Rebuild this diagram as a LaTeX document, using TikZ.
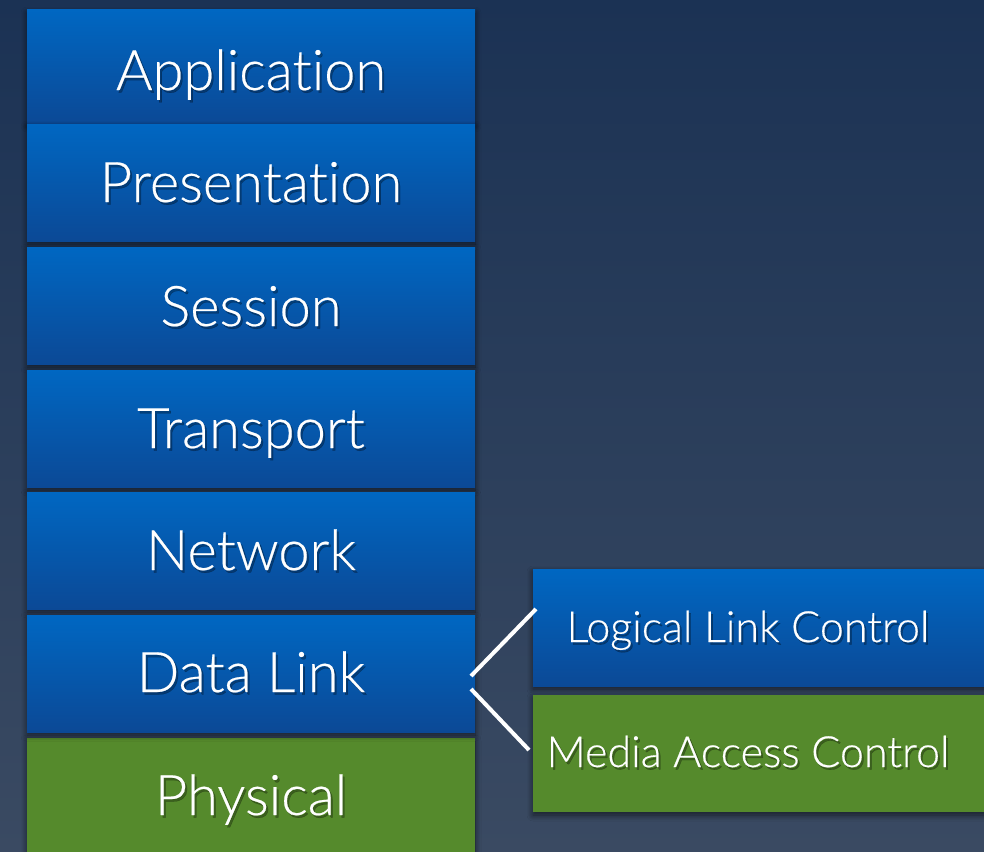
\documentclass[tikz,border=0pt]{standalone}
\usepackage{fontspec}
\setmainfont{Lato}[UprightFont=* Light, Ligatures={NoCommon}, FakeBold=0.4]
\usetikzlibrary{shadows.blur,calc}

\definecolor{bgtop}{HTML}{1B3254}
\definecolor{bgbot}{HTML}{3A4A62}
\definecolor{bluetop}{HTML}{0067C2}
\definecolor{bluebot}{HTML}{0B4996}
\definecolor{grass}{HTML}{558A2C}

\tikzset{
  every node/.style={inner sep=0pt, outer sep=0pt},
  layerbox/.style={rectangle, minimum width=448pt, minimum height=117pt,
    blur shadow={shadow xshift=0pt, shadow yshift=-3pt, shadow blur steps=10,
      shadow blur radius=6pt, shadow opacity=60}},
  sublayerbox/.style={layerbox, minimum width=460pt},
  bluefill/.style={top color=bluetop, bottom color=bluebot},
  greenfill/.style={fill=grass},
  bigtext/.style={font=\fontsize{56}{62}\selectfont, text=white, anchor=base},
  smalltext/.style={font=\fontsize{43}{50}\selectfont, text=white, anchor=base},
  textshade/.style={text=black, opacity=0.3},
  splitline/.style={draw=white, line width=4pt}
}

% white label over a soft dark drop shadow
\newcommand{\shadedlabel}[4]{%
  \node[#1, textshade] at ($(#2)+(2,2.5)$) {#4};
  \node[#1] (#3) at (#2) {#4};
}

\begin{document}
\begin{tikzpicture}[x=1pt, y=-1pt]
  \useasboundingbox (0,0) rectangle (984,851);
  \clip (0,0) rectangle (984,851);
  \shade[top color=bgtop, bottom color=bgbot] (0,0) rectangle (984,851);

  % the seven layers
  \node[layerbox, bluefill, minimum height=113pt] (app) at (251,66.5) {};
  \node[layerbox, bluefill] (pres) at (251,182.5) {};
  \node[layerbox, bluefill] (sess) at (251,305.5) {};
  \node[layerbox, bluefill] (trans) at (251,428.5) {};
  \node[layerbox, bluefill] (net) at (251,550.5) {};
  \node[layerbox, greenfill] (phys) at (251,796.5) {};
  \node[layerbox, bluefill] (dl) at (251,673.5) {};

  % the two data link sublayers
  \node[sublayerbox, bluefill] (llc) at (763,627.5) {};
  \node[sublayerbox, greenfill] (mac) at (763,753.5) {};

  % labels
  \shadedlabel{bigtext}{251,90}{tapp}{Application}
  \shadedlabel{bigtext}{251,202}{tpres}{Presentation}
  \shadedlabel{bigtext}{251,326}{tsess}{Session}
  \shadedlabel{bigtext}{251,448}{ttrans}{Transport}
  \shadedlabel{bigtext}{251,570}{tnet}{Network}
  \shadedlabel{bigtext}{251,692}{tdl}{Data Link}
  \shadedlabel{bigtext}{251,815}{tphys}{Physical}
  \shadedlabel{smalltext}{748,642}{tllc}{Logical Link Control}
  \shadedlabel{smalltext}{748,767}{tmac}{Media Access Control}

  % split of the data link layer
  \draw[splitline] ([xshift=-4pt, yshift=-2.5pt]dl.east) -- ([xshift=3pt, yshift=18.5pt]llc.west);
  \draw[splitline] ([xshift=-4pt, yshift=-15.5pt]dl.east) -- ([xshift=-4pt, yshift=3.5pt]mac.west);
\end{tikzpicture}
\end{document}
